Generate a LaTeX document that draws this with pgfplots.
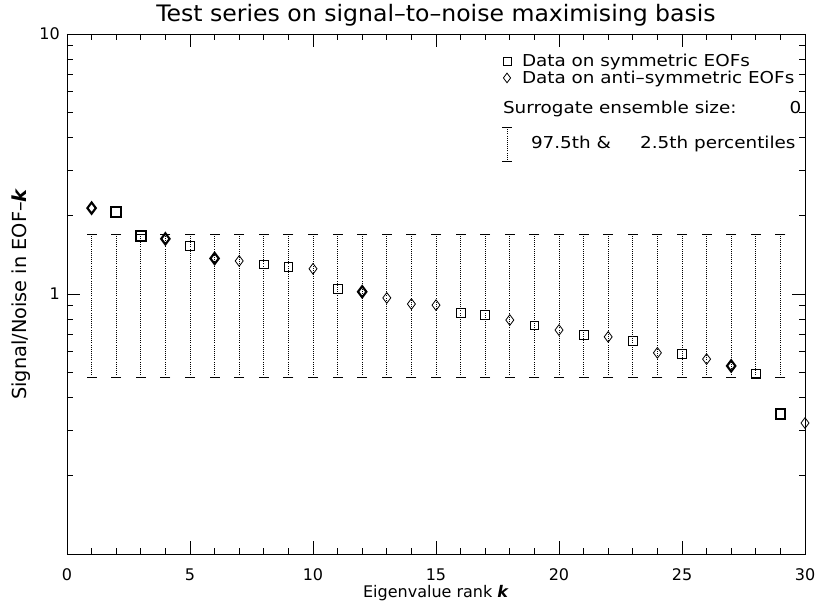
\documentclass[border=0pt]{standalone}
\usepackage{pgfplots}
\pgfplotsset{compat=1.18}
\usepackage{fontspec}
\setmainfont{DejaVu Sans}
\newfontfamily\titlefont{DejaVu Sans}[FakeStretch=1.04, Ligatures=TeX]
\newfontfamily\legfont{DejaVu Sans}[FakeStretch=1.12, Ligatures=TeX]
\begin{document}
\begin{tikzpicture}
\path[use as bounding box] (-50.25pt,-41.25pt) rectangle (562.5pt,415.5pt);
\begin{axis}[
  at={(0,0)}, anchor=south west,
  scale only axis, width=553.5pt, height=390pt,
  ymode=log, xmin=0, xmax=30, ymin=0.1, ymax=10,
  xtick={0,5,...,30}, minor xtick={1,2,3,4,6,7,8,9,11,12,13,14,16,17,18,19,21,22,23,24,26,27,28,29},
  ytick={0.1,1,10}, yticklabels={,1,10},
  minor ytick={0.2,0.3,0.4,0.5,0.6,0.7,0.8,0.9,2,3,4,5,6,7,8,9},
  tick align=inside, major tick length=10pt, minor tick length=4.5pt,
  tick style={black, line width=0.6pt},
  axis line style={line width=0.7pt},
  every tick label/.append style={font=\fontsize{12}{14}\selectfont},
  /pgf/number format/assume math mode=true,
  xticklabel style={anchor=center, yshift=-15.75pt},
  yticklabel style={anchor=east, inner sep=0pt, xshift=-5.25pt},
  title style={at={(axis description cs:0.5,1)}, anchor=base, yshift=3pt,
    font=\titlefont\fontsize{17}{19}\selectfont},
  title={Test series on signal--to--noise maximising basis},
  xlabel={Eigenvalue rank \textbf{\textit{k}}},
  ylabel={Signal/Noise in EOF--\textbf{\textit{k}}},
  xlabel style={at={([yshift=-29.25pt]axis description cs:0.5,0)}, anchor=center,
    font=\fontsize{12}{14}\selectfont},
  ylabel style={at={([xshift=-34.5pt]axis description cs:0,0.5)}, anchor=center,
    font=\fontsize{14.5}{16}\selectfont},
  legend style={draw=none, fill=none, at={(axis description cs:0.58175,0.96449)}, anchor=north west,
    inner xsep=0pt, inner ysep=0pt, outer sep=0pt, row sep=0pt, column sep=3.25pt,
    font=\legfont\fontsize{12.3}{14}\selectfont,
    nodes={inner sep=0pt, text height=10.9pt, text depth=1.85pt}},
  legend cell align=left,
]
% normal squares
\addplot[only marks, mark=square, mark size=3.3pt, mark options={line width=0.6pt},
  legend image code/.code={\path[draw=none, fill=none] (-8pt,0pt) -- (8pt,0pt); \draw[mark size=3pt] plot coordinates {(0pt,0pt)};}] coordinates {
(5,1.53)(8,1.30)(9,1.27)(11,1.045)(16,0.846)(17,0.831)(19,0.757)(21,0.697)(23,0.659)(25,0.589)(28,0.492)
};
\addlegendentry{Data on symmetric EOFs}
% normal diamonds
\addplot[only marks, mark=diamond, mark size=4pt, mark options={line width=0.6pt},
  legend image code/.code={\path[draw=none, fill=none] (-8pt,0pt) -- (8pt,0pt); \draw[mark size=3.6pt] plot coordinates {(0pt,0pt)};}] coordinates {
(7,1.34)(10,1.25)(13,0.966)(14,0.915)(15,0.906)(18,0.794)(20,0.727)(22,0.684)(24,0.594)(26,0.562)(30,0.319)
};
\addlegendentry{Data on anti--symmetric EOFs}
% bold squares
\addplot[only marks, mark=square, mark size=3.6pt, mark options={line width=1.6pt}, forget plot] coordinates {
(2,2.07)(3,1.67)(29,0.346)
};
% bold diamonds
\addplot[only marks, mark=diamond, mark size=4.2pt, mark options={line width=1.6pt}, forget plot] coordinates {
(1,2.14)(4,1.63)(6,1.37)(12,1.02)(27,0.529)
};
% percentile bars
\addplot[black, densely dotted, line width=0.6pt, mark=-, mark size=3.75pt, mark options={solid, line width=0.8pt}, unbounded coords=jump, forget plot] coordinates {
(1,0.478)(1,1.70)(1,nan)
(2,0.478)(2,1.70)(2,nan)
(3,0.478)(3,1.70)(3,nan)
(4,0.478)(4,1.70)(4,nan)
(5,0.478)(5,1.70)(5,nan)
(6,0.478)(6,1.70)(6,nan)
(7,0.478)(7,1.70)(7,nan)
(8,0.478)(8,1.70)(8,nan)
(9,0.478)(9,1.70)(9,nan)
(10,0.478)(10,1.70)(10,nan)
(11,0.478)(11,1.70)(11,nan)
(12,0.478)(12,1.70)(12,nan)
(13,0.478)(13,1.70)(13,nan)
(14,0.478)(14,1.70)(14,nan)
(15,0.478)(15,1.70)(15,nan)
(16,0.478)(16,1.70)(16,nan)
(17,0.478)(17,1.70)(17,nan)
(18,0.478)(18,1.70)(18,nan)
(19,0.478)(19,1.70)(19,nan)
(20,0.478)(20,1.70)(20,nan)
(21,0.478)(21,1.70)(21,nan)
(22,0.478)(22,1.70)(22,nan)
(23,0.478)(23,1.70)(23,nan)
(24,0.478)(24,1.70)(24,nan)
(25,0.478)(25,1.70)(25,nan)
(26,0.478)(26,1.70)(26,nan)
(27,0.478)(27,1.70)(27,nan)
(28,0.478)(28,1.70)(28,nan)
(29,0.478)(29,1.70)
};
\addlegendimage{empty legend}
\addlegendentry[text height=20.65pt]{\hspace*{-14.25pt}\makebox[215pt][l]{Surrogate ensemble size:}0}
\addlegendimage{legend image code/.code={
  \path[draw=none, fill=none] (-8pt,0pt) -- (8pt,0pt);
  \draw[densely dotted, line width=0.6pt] (0pt,-21pt) -- (0pt,4.5pt);
  \draw[solid, line width=0.7pt] (-3.75pt,4.5pt) -- (3.75pt,4.5pt);
  \draw[solid, line width=0.7pt] (-3.75pt,-21pt) -- (3.75pt,-21pt);
}}
\addlegendentry[text height=24.4pt]{\hspace*{6.75pt}97.5th \&\hspace*{22pt}2.5th percentiles}
\end{axis}
\end{tikzpicture}
\end{document}
